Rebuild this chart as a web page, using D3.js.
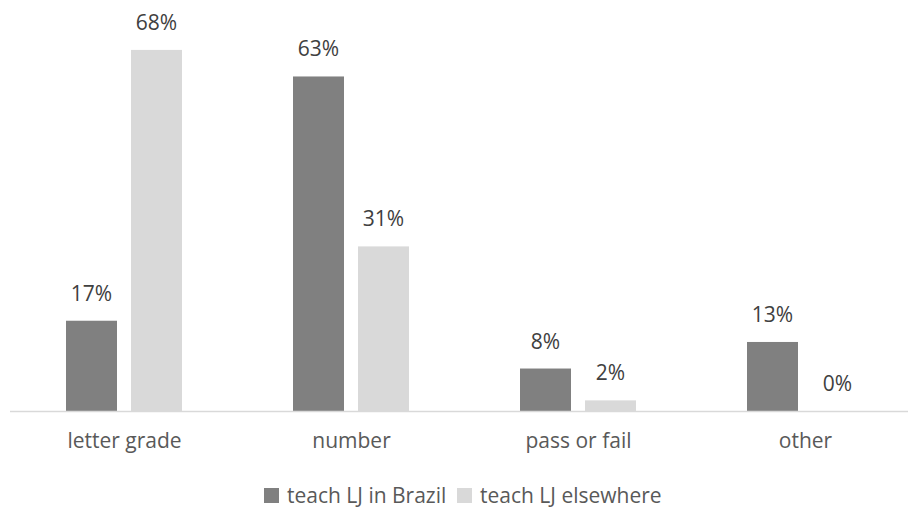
<!DOCTYPE html>
<html>
<head>
<meta charset="utf-8">
<script src="https://cdn.jsdelivr.net/npm/d3@7"></script>
<style>
  body { margin: 0; background: #fff; }
  text { font-family: "Open Sans", sans-serif; }
</style>
</head>
<body>
<div id="chart"></div>
<script>
// categories and series (percent)
var categories = ["letter grade", "number", "pass or fail", "other"];
var seriesNames = ["teach LJ in Brazil", "teach LJ elsewhere"];
var brazil = [17, 63, 8, 13];
var elsewhere = [68, 31, 2, 0];
var colors = ["#808080", "#d9d9d9"];

var w = 908;
var h = 508;
var baseY = 411;

var svg = d3.select("#chart")
  .append("svg")
  .attr("width", w)
  .attr("height", h);

//outer scale puts one band per category, inner one splits it for the two series//
var x0 = d3.scaleBand()
  .domain(categories)
  .range([10.5, 918.5]);

var x1 = d3.scaleBand()
  .domain([0, 1])
  .range([-58, 58])
  .paddingInner(14 / 65);

var y = d3.scaleLinear()
  .domain([0, 70])
  .range([baseY, baseY - 70 * 5.31]);

var rows = [];
categories.forEach(function(c, i) {
  rows.push({cat: c, s: 0, v: brazil[i]});
  rows.push({cat: c, s: 1, v: elsewhere[i]});
});

function mid(c) {
  return x0(c) + x0.bandwidth() / 2;
}

//bars//
svg.selectAll("rect.bar")
  .data(rows)
  .enter()
  .append("rect")
  .attr("class", "bar")
  .attr("x", function(d) { return mid(d.cat) + x1(d.s); })
  .attr("y", function(d) { return y(d.v); })
  .attr("width", x1.bandwidth())
  .attr("height", function(d) { return baseY - y(d.v); })
  .attr("fill", function(d) { return colors[d.s]; });

//value labels over each bar//
svg.selectAll("text.val")
  .data(rows)
  .enter()
  .append("text")
  .attr("class", "val")
  .attr("x", function(d) { return mid(d.cat) + x1(d.s) + x1.bandwidth() / 2; })
  .attr("y", function(d) { return y(d.v) - 20; })
  .attr("text-anchor", "middle")
  .attr("font-size", "21px")
  .attr("fill", "#404040")
  .text(function(d) { return d.v + "%"; });

//baseline//
svg.append("line")
  .attr("x1", 10)
  .attr("x2", w)
  .attr("y1", baseY + 0.5)
  .attr("y2", baseY + 0.5)
  .attr("stroke", "#d9d9d9")
  .attr("stroke-width", 1.5);

//category axis, no ticks or domain line//
var xAxis = svg.append("g")
  .attr("transform", "translate(0," + baseY + ")")
  .call(d3.axisBottom(x0).tickSize(0).tickPadding(22));
xAxis.select(".domain").remove();
xAxis.selectAll("text")
  .attr("font-family", "Open Sans, sans-serif")
  .attr("font-size", "21px")
  .attr("fill", "#595959");
xAxis.selectAll(".tick")
  .attr("transform", function(d) { return "translate(" + (mid(d) + 0.5) + ",0)"; });

//legend//
var legendX = [264, 457];
var legend = svg.selectAll("g.legend")
  .data(seriesNames)
  .enter()
  .append("g")
  .attr("class", "legend")
  .attr("transform", function(d, i) { return "translate(" + legendX[i] + ",487)"; });

legend.append("rect")
  .attr("y", 1)
  .attr("width", 15)
  .attr("height", 15)
  .attr("fill", function(d, i) { return colors[i]; });

legend.append("text")
  .attr("x", 23)
  .attr("y", 16)
  .attr("font-size", "21px")
  .attr("fill", "#595959")
  .text(function(d) { return d; });
</script>
</body>
</html>
